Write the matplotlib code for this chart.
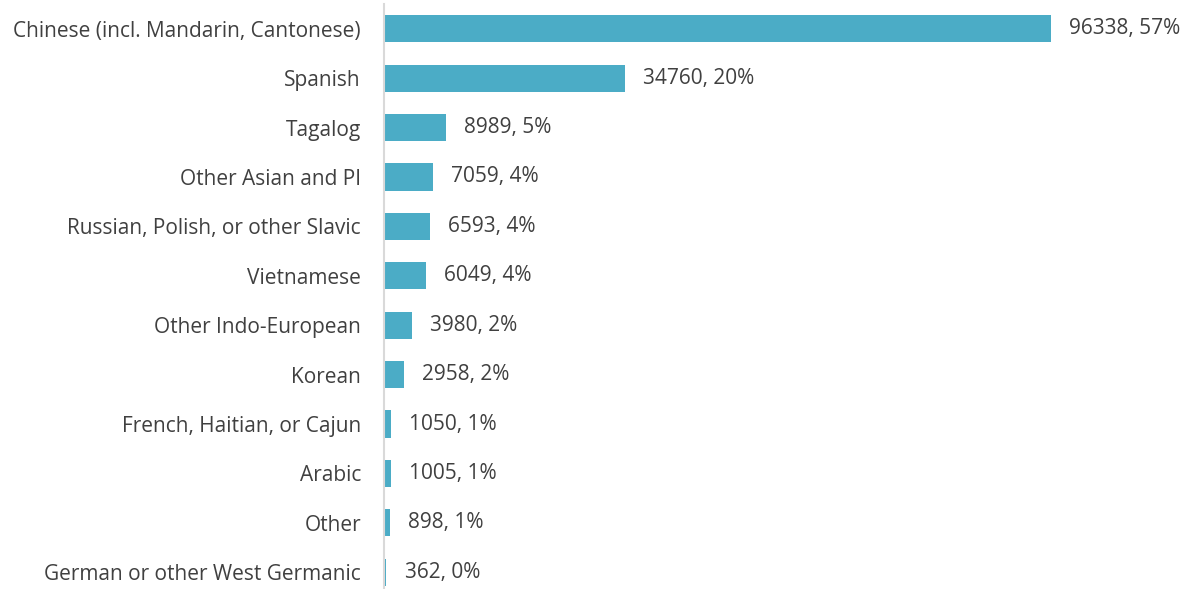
import matplotlib.pyplot as plt

languages = ["Chinese (incl. Mandarin, Cantonese)", "Spanish", "Tagalog", "Other Asian and PI",
             "Russian, Polish, or other Slavic", "Vietnamese", "Other Indo-European", "Korean",
             "French, Haitian, or Cajun", "Arabic", "Other", "German or other West Germanic"]
speakers = [96338, 34760, 8989, 7059, 6593, 6049, 3980, 2958, 1050, 1005, 898, 362]
percents = [57, 20, 5, 4, 4, 4, 2, 2, 1, 1, 1, 0]

plt.rcParams['font.family'] = ['Open Sans', 'DejaVu Sans']

fig = plt.figure(figsize=(11.88, 5.89), dpi=100)
ax = fig.add_axes([0.3232, -0.0136, 0.6768, 1.0068])

ypos = list(range(len(languages)))
ax.barh(ypos, speakers, height=0.55, color="#4BACC6", linewidth=0)

for y, v, p in zip(ypos, speakers, percents):
    ax.annotate(f"{v}, {p}%", (v, y), xytext=(13, 0), textcoords="offset points",
                va="center", ha="left", fontsize=15, color="#404040")

ax.set_yticks(ypos)
ax.set_yticklabels(languages, fontsize=15, color="#404040")
ax.tick_params(axis="y", length=0, pad=16.5)
ax.set_xticks([])
ax.set_xlim(0, 116120)
ax.set_ylim(11.5, -0.5)

for s in ["top", "right", "bottom"]:
    ax.spines[s].set_visible(False)
ax.spines["left"].set_color("#D9D9D9")
ax.spines["left"].set_linewidth(1.5)

fig.savefig("out.png", dpi=100)
